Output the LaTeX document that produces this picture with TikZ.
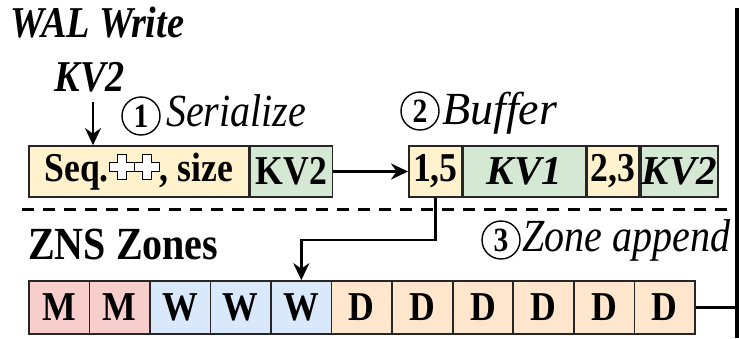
\documentclass[tikz,border=0pt]{standalone}
\usepackage{fontspec}
\setmainfont{Liberation Serif}[FakeStretch=0.87]
\newfontfamily\plainrm{Liberation Serif}
\usetikzlibrary{arrows.meta}
\definecolor{cyel}{HTML}{FFF2CC}
\definecolor{cgrn}{HTML}{D5E8D4}
\definecolor{cred}{HTML}{F8CECC}
\definecolor{cblu}{HTML}{DAE8FC}
\definecolor{corg}{HTML}{FFE6CC}
\newcommand\hollowplus{\tikz[baseline=0pt,x=1pt,y=1pt]{\foreach \cx in {12.5,37.5}{\draw[line width=1pt,fill=white,shift={(\cx,14)}] (-4.5,12.5)--(4.5,12.5)--(4.5,4.5)--(12.5,4.5)--(12.5,-4.5)--(4.5,-4.5)--(4.5,-12.5)--(-4.5,-12.5)--(-4.5,-4.5)--(-12.5,-4.5)--(-12.5,4.5)--(-4.5,4.5)--cycle;}}}
\begin{document}
\begin{tikzpicture}[x=1pt,y=-1pt,
  cell/.style={draw=black!85, line width=1.7pt, minimum height=51pt, inner sep=0pt, anchor=west, font=\fontsize{41}{41}\selectfont\bfseries},
  zcell/.style={cell, minimum width=60.55pt, minimum height=53pt},
  arr/.style={line width=2.8pt, -{Stealth[length=17pt,width=16pt]}},
  lbl/.style={font=\fontsize{46}{46}\selectfont\itshape, anchor=base west, inner sep=0pt},
  blbl/.style={font=\fontsize{44}{44}\selectfont\bfseries\itshape, inner sep=0pt},
  cnum/.style={circle, draw, line width=1.4pt, minimum size=38pt, inner sep=0pt, font=\fontsize{34}{34}\selectfont\bfseries}]
\useasboundingbox (0,0) rectangle (739,338);
% titles
\node[blbl, anchor=base west] (title) at (10,37) {WAL Write};
\node[blbl, anchor=base] (kvlab) at (90,91) {KV2};
% serialized record
\node[cell, fill=cyel, minimum width=220pt] (s1) at (28,171.5) {Seq.\hollowplus, size};
\node[cell, fill=cgrn, minimum width=82pt] (s2) at (s1.east) {KV2};
% buffer
\node[cell, fill=cyel, minimum width=53pt] (b1) at (408,171.5) {1,5};
\node[cell, fill=cgrn, minimum width=122pt] (b2) at (b1.east) {\plainrm\bfseries\itshape KV1};
\node[cell, fill=cyel, minimum width=52pt] (b3) at (b2.east) {2,3};
\node[cell, fill=cgrn, minimum width=77pt] (b4) at (b3.east) {\plainrm\bfseries\itshape KV2};
% step labels
\node[cnum] (c1) at (141,116) {1};
\node[lbl] (ser) at (166,126) {Serialize};
\node[cnum] (c2) at (420,111) {2};
\node[lbl, font=\fontsize{46}{46}\selectfont\plainrm\itshape] (buf) at (442,124) {Buffer};
\node[cnum] (c3) at (501,240) {3};
\node[lbl] (za) at (522,251) {Zone append};
% zones
\node[font=\fontsize{46}{46}\selectfont\bfseries, anchor=base west, inner sep=0pt] (zns) at (28,259) {ZNS Zones};
\foreach \i/\t/\c in {1/M/cred,2/M/cred,3/W/cblu,4/W/cblu,5/W/cblu,6/D/corg,7/D/corg,8/D/corg,9/D/corg,10/D/corg,11/D/corg}
  \node[zcell, fill=\c] (z\i) at ({28+(\i-1)*60.55},307.5) {\t};
% lines
\coordinate (dl) at (22,209);
\coordinate (dr) at (737,209);
\draw[line width=3pt, dash pattern=on 12pt off 9pt] (dl) -- (dr);
\coordinate (vtop) at (737,8);
\coordinate (vbot) at (737,338);
\draw[line width=3.2pt] (vtop) -- (vbot);
\draw[line width=2.8pt] (z11.east) -- (z11.east -| vtop);
% arrows
\coordinate (kvtop) at (93,102);
\draw[arr] (kvtop) -- (kvtop |- s1.north);
\draw[arr] (s2.east) -- (b1.west);
\draw[arr] (b1.south) -- (b1.south |- 0,240) -| (z5.north);
\end{tikzpicture}
\end{document}
